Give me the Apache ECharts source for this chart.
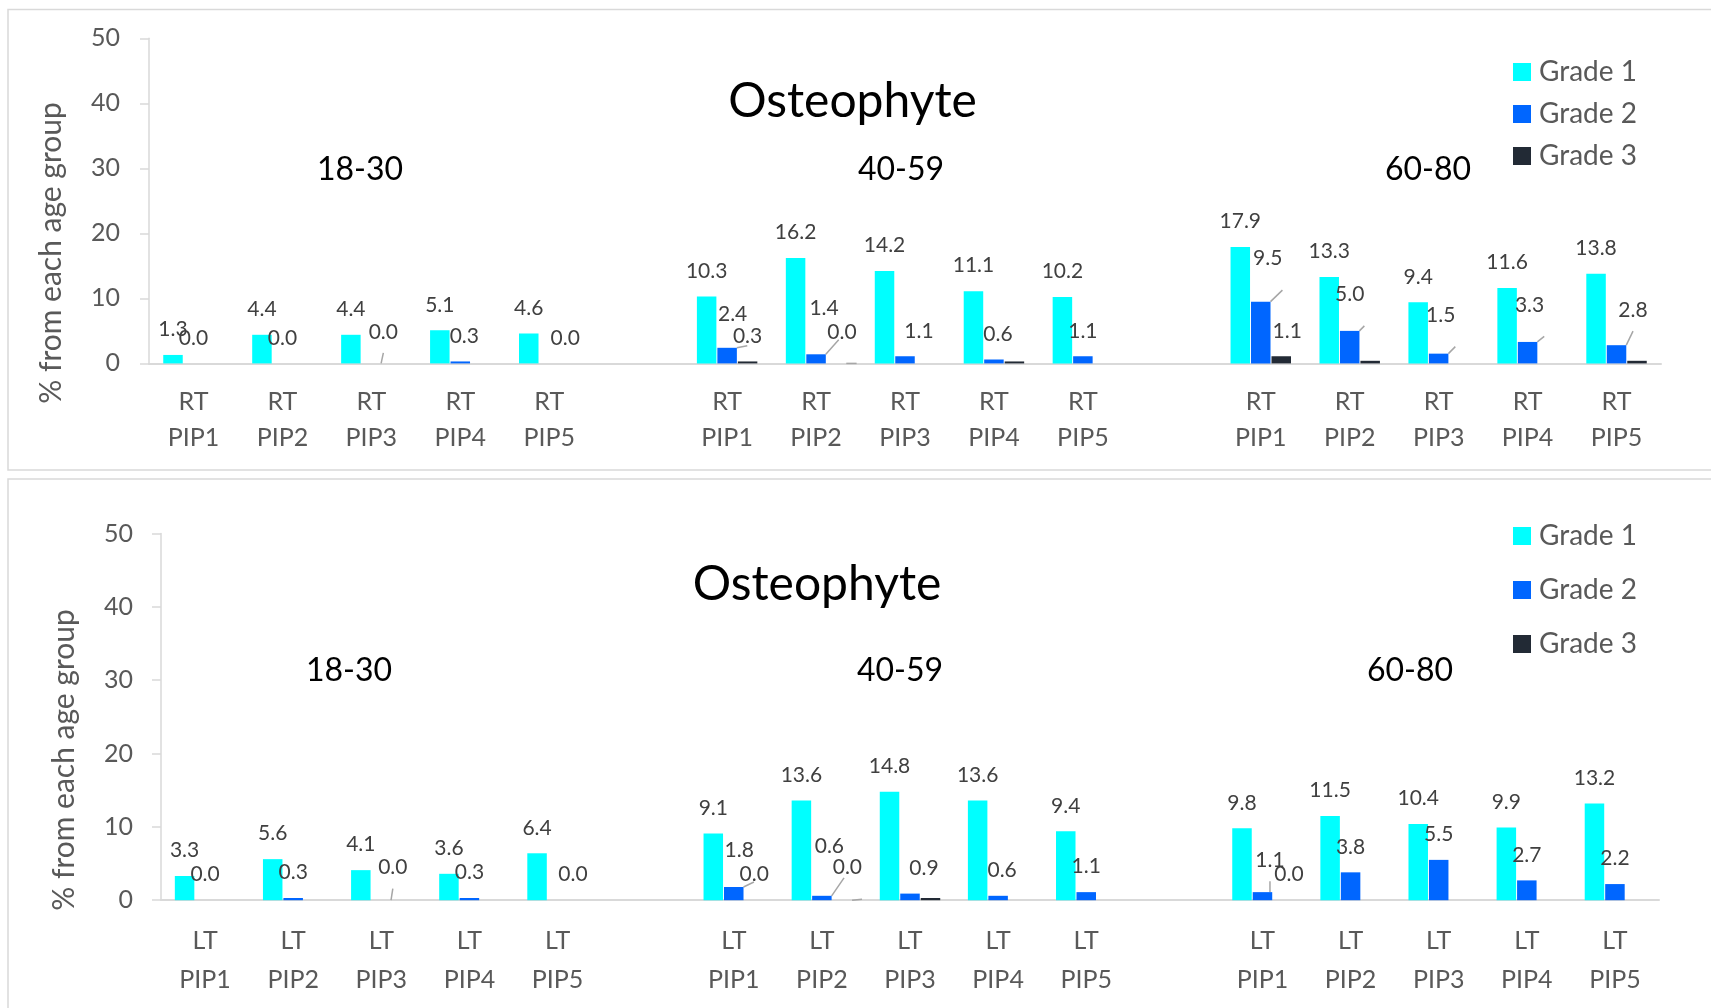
<!DOCTYPE html>
<html>
<head>
<meta charset="utf-8">
<title>Osteophyte</title>
<script src="https://cdn.jsdelivr.net/npm/echarts@6/dist/echarts.min.js"></script>
<style>
  html, body { margin: 0; padding: 0; background: #ffffff; }
  #chart { width: 1711px; height: 1008px; }
</style>
</head>
<body>
<div id="chart"></div>
<script>
const FONT = 'Lato, "Noto Sans", sans-serif';

// categories
const pipJoints = ['PIP1', 'PIP2', 'PIP3', 'PIP4', 'PIP5'];
const ageGroups = ['18-30', '40-59', '60-80'];
const gradeNames = ['Grade 1', 'Grade 2', 'Grade 3'];

// value axis ticks
const yMin = 0;
const yMax = 50;
const yStep = 10;

// right hand, % per age group, PIP1..PIP5 for 18-30, 40-59, 60-80
const rtGrade1 = [1.3, 4.4, 4.4, 5.1, 4.6, 10.3, 16.2, 14.2, 11.1, 10.2, 17.9, 13.3, 9.4, 11.6, 13.8];
const rtGrade2 = [0.0, 0.0, 0.0, 0.3, 0.0, 2.4, 1.4, 1.1, 0.6, 1.1, 9.5, 5.0, 1.5, 3.3, 2.8];
const rtGrade3 = [null, null, null, null, null, 0.3, 0.0, null, 0.3, null, 1.1, 0.4, null, null, 0.4];

// left hand
const ltGrade1 = [3.3, 5.6, 4.1, 3.6, 6.4, 9.1, 13.6, 14.8, 13.6, 9.4, 9.8, 11.5, 10.4, 9.9, 13.2];
const ltGrade2 = [0.0, 0.3, 0.0, 0.3, 0.0, 1.8, 0.6, 0.9, 0.6, 1.1, 1.1, 3.8, 5.5, 2.7, 2.2];
const ltGrade3 = [null, null, null, null, null, 0.0, 0.0, 0.3, null, null, 0.0, null, null, null, null];

// labels moved off their bar: grade index -> point index -> [dx, dy, leader line]
const rtLabelNudges = {
  1: { 2: [12, -6, true], 3: [4, 0], 4: [16, 0], 5: [5.5, -8, true], 6: [8, -20.5, true],
       7: [14, 0], 8: [4, 0], 10: [7, -17.5, true], 11: [0, -11, true], 12: [2, -13, true],
       13: [2, -11.5, true], 14: [16.5, -9.5, true] },
  2: { 6: [5.4, -6, true], 10: [6, 0] }
};
const ltLabelNudges = {
  1: { 2: [11.5, -7, true], 4: [15.5, 0], 5: [5.5, -11, true], 6: [7.5, -24, true],
       7: [14, 0], 8: [4, 0], 10: [7.5, -6.5, true] },
  2: { 6: [5, -7, true], 10: [6, 0] }
};
// bars drawn without a value label
const rtUnlabeled = { 2: [8, 11, 14] };
const ltUnlabeled = { 2: [7] };

const COLORS = ['#00FFFF', '#0066FF', '#222A35'];
const AXIS_GREY = '#D9D9D9';
const TEXT_GREY = '#595959';

// 5 joints per age group, one blank slot between groups
function buildCategories(side) {
  const cats = [];
  ageGroups.forEach((g, gi) => {
    pipJoints.forEach(p => cats.push(side + '\n' + p));
    if (gi < ageGroups.length - 1) cats.push('');
  });
  return cats;
}

function buildSeries(values, gradeIdx, axisIdx, nudges, unlabeled) {
  const data = [];
  const groupSize = pipJoints.length;
  ageGroups.forEach((g, gi) => {
    for (let p = 0; p < groupSize; p++) {
      const k = gi * groupSize + p;
      const v = values[k];
      if (v == null) { data.push(null); continue; }
      const item = { value: v };
      const n = (nudges[gradeIdx] || {})[k];
      if (n) {
        item.label = { offset: [n[0], n[1]] };
        if (n[2]) item.labelLine = { show: true, lineStyle: { color: '#A6A6A6', width: 1.5 } };
      }
      if ((unlabeled[gradeIdx] || []).indexOf(k) >= 0) item.label = { show: false };
      data.push(item);
    }
    if (gi < ageGroups.length - 1) data.push(null);
  });
  return {
    name: gradeNames[gradeIdx],
    type: 'bar',
    xAxisIndex: axisIdx,
    yAxisIndex: axisIdx,
    barWidth: 19.5,
    barGap: '5%',
    itemStyle: { color: COLORS[gradeIdx] },
    label: {
      show: true,
      position: 'top',
      distance: 15,
      color: '#404040',
      fontFamily: FONT,
      fontSize: 21,
      lineHeight: 21,
      formatter: p => Number(p.value).toFixed(1)
    },
    data: data
  };
}

function valueAxis(gridIndex, margin) {
  return {
    type: 'value',
    gridIndex: gridIndex,
    min: yMin,
    max: yMax,
    interval: yStep,
    splitLine: { show: false },
    axisLine: { show: true, lineStyle: { color: AXIS_GREY, width: 1.5 } },
    axisTick: { show: true, length: 9, lineStyle: { color: AXIS_GREY, width: 1.5 } },
    axisLabel: { color: TEXT_GREY, fontFamily: FONT, fontSize: 25, margin: margin }
  };
}

function categoryAxis(gridIndex, side, lineHeight, margin) {
  return {
    type: 'category',
    gridIndex: gridIndex,
    data: buildCategories(side),
    axisTick: { show: false },
    axisLine: { show: true, lineStyle: { color: AXIS_GREY, width: 2 } },
    axisLabel: {
      interval: 0, color: TEXT_GREY, fontFamily: FONT, fontSize: 25,
      lineHeight: lineHeight, margin: margin
    }
  };
}

function legend(top, gap) {
  return {
    orient: 'vertical',
    left: 1508,
    top: top,
    itemGap: gap,
    itemWidth: 18,
    itemHeight: 18,
    icon: 'rect',
    data: gradeNames,
    textStyle: { color: TEXT_GREY, fontFamily: FONT, fontSize: 28, lineHeight: 28, padding: [0, 0, 0, 3] }
  };
}

function label(text, x, y, size, color, rotation) {
  return {
    type: 'text', x: x, y: y, rotation: rotation || 0, silent: true,
    style: {
      text: text, fill: color, font: size + 'px ' + FONT,
      align: 'center', verticalAlign: 'middle',
      textAlign: 'center', textVerticalAlign: 'middle'
    }
  };
}

function panel(y, h) {
  return {
    type: 'rect', silent: true, z: -10,
    shape: { x: 8, y: y, width: 1760, height: h },
    style: { fill: 'none', stroke: AXIS_GREY, lineWidth: 1.5 }
  };
}

const chart = echarts.init(document.getElementById('chart'), null, { renderer: 'canvas' });

chart.setOption({
  animation: false,
  backgroundColor: '#ffffff',
  textStyle: { fontFamily: FONT },
  grid: [
    { left: 149, top: 38.3, width: 1512, height: 325.1 },
    { left: 161, top: 533.6, width: 1498, height: 366.6 }
  ],
  xAxis: [categoryAxis(0, 'RT', 36, 20.5), categoryAxis(1, 'LT', 38.5, 21.5)],
  yAxis: [valueAxis(0, 29), valueAxis(1, 28)],
  legend: [legend(53, 14), legend(517, 26)],
  series: [
    buildSeries(rtGrade1, 0, 0, rtLabelNudges, rtUnlabeled),
    buildSeries(rtGrade2, 1, 0, rtLabelNudges, rtUnlabeled),
    buildSeries(rtGrade3, 2, 0, rtLabelNudges, rtUnlabeled),
    buildSeries(ltGrade1, 0, 1, ltLabelNudges, ltUnlabeled),
    buildSeries(ltGrade2, 1, 1, ltLabelNudges, ltUnlabeled),
    buildSeries(ltGrade3, 2, 1, ltLabelNudges, ltUnlabeled)
  ],
  graphic: [
    panel(9.5, 460.5),
    panel(479, 600),
    label('Osteophyte', 852.5, 102, 48, '#000000'),
    label('Osteophyte', 817, 584.5, 48, '#000000'),
    label(ageGroups[0], 360, 170, 32, '#000000'),
    label(ageGroups[1], 901, 170, 32, '#000000'),
    label(ageGroups[2], 1428, 170, 32, '#000000'),
    label(ageGroups[0], 349, 671, 32, '#000000'),
    label(ageGroups[1], 900, 671, 32, '#000000'),
    label(ageGroups[2], 1410, 671, 32, '#000000'),
    label('% from each age group', 51, 253, 30, TEXT_GREY, Math.PI / 2),
    label('% from each age group', 64, 760, 30, TEXT_GREY, Math.PI / 2)
  ]
});
</script>
</body>
</html>
